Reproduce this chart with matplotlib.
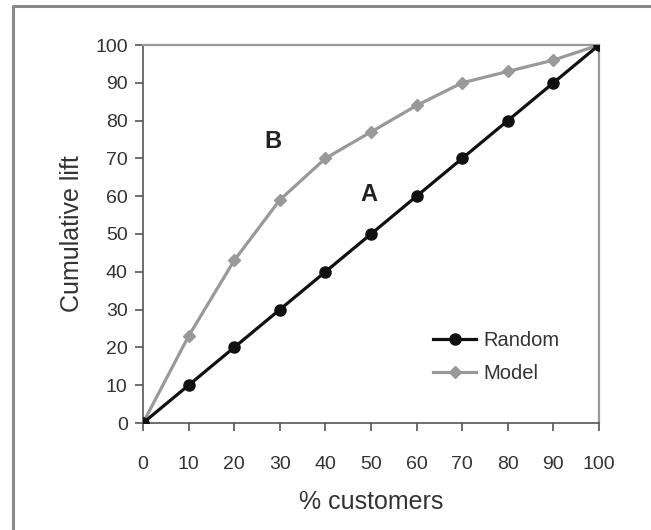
import matplotlib
matplotlib.use("Agg")
import matplotlib.pyplot as plt
from matplotlib.lines import Line2D

plt.rcParams['font.family'] = ['Liberation Sans', 'DejaVu Sans']

customers = [0, 10, 20, 30, 40, 50, 60, 70, 80, 90, 100]
random_lift = [0, 10, 20, 30, 40, 50, 60, 70, 80, 90, 100]
model_lift = [0, 23, 43, 59, 70, 77, 84, 90, 93, 96, 100]
ticks = [0, 10, 20, 30, 40, 50, 60, 70, 80, 90, 100]

text_col = '#333333'

fig = plt.figure(figsize=(6.51, 5.30), dpi=100)
ax = fig.add_axes([143 / 651, 1 - 423 / 530, 456 / 651, 378 / 530])

# outer frame (left and top edges)
fig.add_artist(Line2D([13 / 651, 13 / 651, 1.0], [0.0, 1 - 6 / 530, 1 - 6 / 530],
                      transform=fig.transFigure, color='#8a8a8a', lw=2.2))

ax.plot(customers, random_lift, color='#111111', lw=2.3, marker='o',
        markersize=8, label='Random', zorder=3)
ax.plot(customers, model_lift, color='#999999', lw=2.3, marker='D',
        markersize=6, label='Model', zorder=2)

ax.set_xlim(0, 100)
ax.set_ylim(0, 100)
ax.set_xticks(ticks)
ax.set_yticks(ticks)
ax.tick_params(axis='both', direction='out', length=6, width=1.2,
               colors='#555555', labelcolor=text_col, labelsize=14, pad=5)
ax.tick_params(axis='x', pad=18)

for side in ('left', 'bottom'):
    ax.spines[side].set_color('#555555')
    ax.spines[side].set_linewidth(1.2)
for side in ('top', 'right'):
    ax.spines[side].set_color('#999999')
    ax.spines[side].set_linewidth(1.6)

ax.set_xlabel('% customers', fontsize=18, color=text_col, labelpad=12)
ax.set_ylabel('Cumulative lift', fontsize=18, color=text_col, labelpad=8)

ax.text(28.5, 74.5, 'B', fontsize=17, fontweight='bold', color='#222222',
        ha='center', va='center')
ax.text(49.5, 60.5, 'A', fontsize=17, fontweight='bold', color='#222222',
        ha='center', va='center')

ax.legend(loc='upper left', bbox_to_anchor=(0.597, 0.292), frameon=False,
          fontsize=14.5, handlelength=2.1, labelspacing=0.72,
          handletextpad=0.4, labelcolor=text_col)

fig.savefig('out.png', dpi=100)
